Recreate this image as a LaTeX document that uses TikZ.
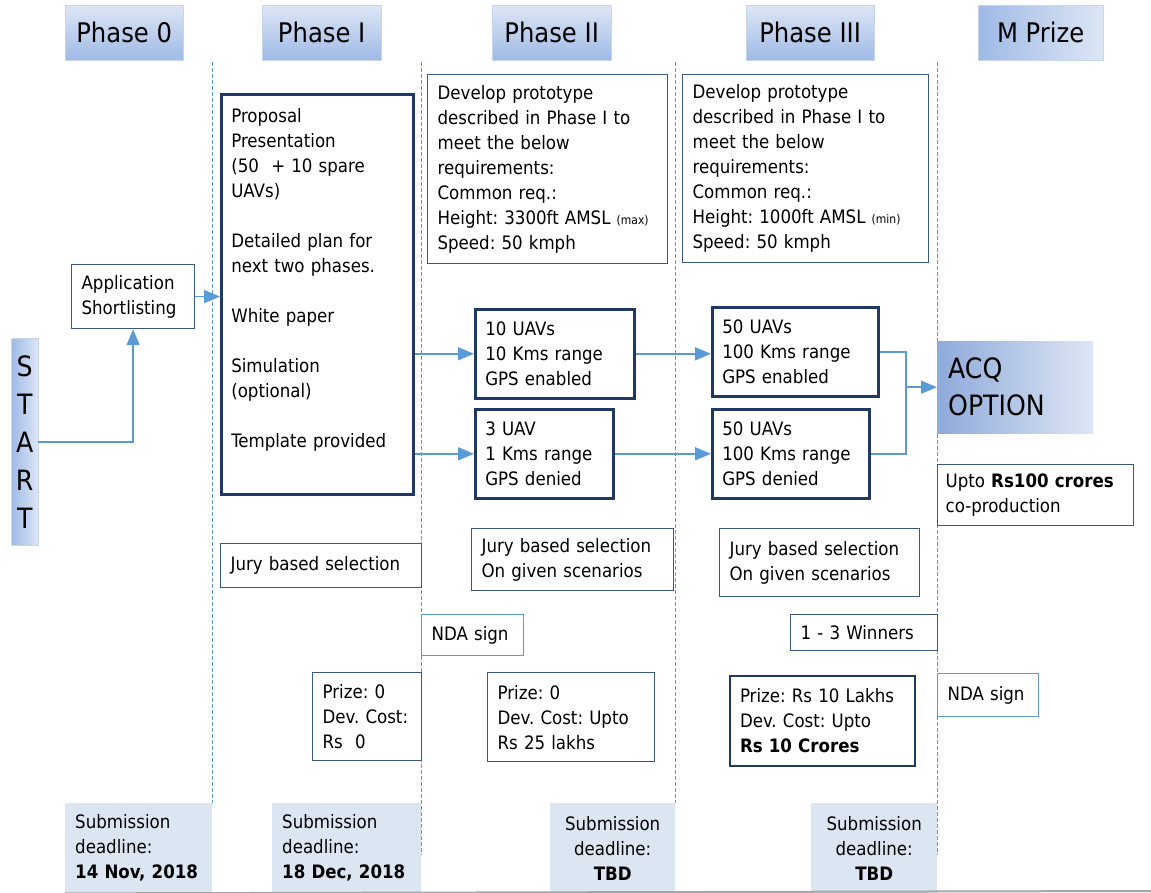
\documentclass[tikz,border=0pt]{standalone}
\usepackage{fontspec}
\setmainfont{DejaVu Sans Condensed}
\usepackage{xcolor}
\usetikzlibrary{arrows.meta}

\definecolor{navy}{HTML}{1F3864}
\definecolor{boxline}{HTML}{3A5683}
\definecolor{arrowblue}{HTML}{5B9BD5}
\definecolor{deadfill}{HTML}{DCE6F2}
\definecolor{headtop}{HTML}{DDE6F5}
\definecolor{headbot}{HTML}{9FBAE6}
\definecolor{headline}{HTML}{C5D5EE}
\definecolor{acqleft}{HTML}{8EAADB}
\definecolor{acqright}{HTML}{DEE6F4}

\newcommand{\limtext}[1]{{\fontsize{12}{12}\selectfont #1}}

\tikzset{
  bodyfont/.style={font=\fontsize{18.5}{25}\selectfont},
  phasehead/.style={draw=headline,top color=headtop,bottom color=headbot,anchor=north west,minimum height=55pt,font=\fontsize{27}{30}\selectfont},
  box/.style={draw=boxline,line width=1.2pt,anchor=north west,align=left,inner xsep=10pt,inner ysep=0pt,bodyfont},
  thickbox/.style={box,draw=navy,line width=2.6pt},
  ndabox/.style={box,draw=arrowblue},
  deadline/.style={fill=deadfill,anchor=north west,inner xsep=10pt,inner ysep=0pt,minimum height=90pt,bodyfont},
  arr/.style={draw=arrowblue,line width=1.6pt,-{Triangle[length=16pt,width=13pt]}},
  joinline/.style={draw=arrowblue,line width=1.6pt},
  phaseline/.style={draw=arrowblue,line width=1pt,dash pattern=on 4pt off 2pt}
}

\frenchspacing

\begin{document}
\begin{tikzpicture}[x=1pt,y=-1pt]
\useasboundingbox (0,0) rectangle (1151,893);

% phase separators
\draw[phaseline] (212,62) -- (212,803);
\draw[phaseline] (421,62) -- (421,855);
\draw[phaseline] (675,62) -- (675,803);
\draw[phaseline] (937,62) -- (937,855);

% headers
\node[phasehead,minimum width=118pt] (ph0) at (65,5) {Phase 0};
\node[phasehead,minimum width=119pt] (ph1) at (262,5) {Phase I};
\node[phasehead,minimum width=119pt] (ph2) at (492,5) {Phase II};
\node[phasehead,minimum width=128pt] (ph3) at (746,5) {Phase III};
\node[phasehead,minimum width=125pt,left color=headbot,right color=headtop] (mprize) at (978,5) {M Prize};

% Phase 0
\node[draw=headline,left color=headbot,right color=headtop,anchor=north west,minimum width=27pt,minimum height=207pt,inner sep=0pt,align=center,font=\fontsize{28}{38}\selectfont] (start) at (11,338) {S\\T\\A\\R\\T};
\node[box,text width=103pt,minimum height=64pt] (appl) at (71,264) {Application\\Shortlisting};

\draw[arr] (start.east) -| (appl.south);

% Phase I
\node[thickbox,text width=172pt,minimum height=400pt] (proposal) at (220,93) {Proposal\\Presentation\\(50\ \ + 10 spare\\UAVs)\\[25pt]Detailed plan for\\next two phases.\\[25pt]White paper\\[25pt]Simulation\\(optional)\\[25pt]Template provided\\[8pt]\mbox{}};
\node[box,text width=181pt,minimum height=44pt] (jury1) at (220,543) {Jury~based~selection};
\node[box,text width=89pt,minimum height=88pt] (prize1) at (312,672) {Prize:~0\\Dev.~Cost:\\Rs\ \ 0};

\draw[arr] (appl.east) -- (appl.east -| proposal.west);

% Phase II
\node[box,text width=220pt,minimum height=189pt] (req2) at (427,74) {Develop prototype\\described in Phase I to\\meet the below\\requirements:\\Common req.:\\Height:~3300ft~AMSL~\limtext{(max)}\\Speed: 50 kmph};
\node[thickbox,text width=139pt,minimum height=89pt] (uav2a) at (474,308) {10~UAVs\\10~Kms~range\\GPS~enabled};
\node[thickbox,text width=118pt,minimum height=89pt] (uav2b) at (474,408) {3~UAV\\1~Kms~range\\GPS~denied};
\node[box,text width=182pt,minimum height=62pt] (jury2) at (471,528) {Jury~based~selection\\On~given~scenarios};
\node[ndabox,text width=82pt,minimum height=41pt] (nda2) at (421,614) {NDA~sign};
\node[box,text width=147pt,minimum height=89pt] (prize2) at (487,672) {Prize:~0\\Dev.~Cost:~Upto\\Rs~25~lakhs};

\draw[arr] (uav2a.west -| proposal.east) -- (uav2a.west);
\draw[arr] (uav2b.west -| proposal.east) -- (uav2b.west);

% Phase III
\node[box,text width=226pt,minimum height=188pt] (req3) at (682,74) {Develop prototype\\described in Phase I to\\meet the below\\requirements:\\Common req.:\\Height:~1000ft~AMSL~\limtext{(min)}\\Speed: 50 kmph};
\node[thickbox,text width=146pt,minimum height=89pt] (uav3a) at (711,306) {50~UAVs\\100~Kms~range\\GPS~enabled};
\node[thickbox,text width=137pt,minimum height=89pt] (uav3b) at (711,408) {50~UAVs\\100~Kms~range\\GPS~denied};
\node[box,text width=180pt,minimum height=68pt] (jury3) at (719,528) {Jury~based~selection\\On~given~scenarios};
\node[box,text width=127pt,minimum height=36pt] (winners) at (790,614) {1~-~3~Winners};
\node[box,draw=navy,line width=2pt,text width=165pt,minimum height=90pt] (prize3) at (729,675) {Prize:~Rs~10~Lakhs\\Dev.~Cost:~Upto\\\textbf{Rs~10~Crores}};

\draw[arr] (uav2a.east) -- (uav2a.east -| uav3a.west);
\draw[arr] (uav2b.east) -- (uav2b.east -| uav3b.west);

% M Prize
\node[left color=acqleft,right color=acqright,anchor=north west,text width=134pt,minimum height=92pt,inner xsep=11pt,align=left,font=\fontsize{28}{37}\selectfont] (acq) at (937,341) {ACQ\\OPTION};
\node[box,inner xsep=8pt,text width=180pt,minimum height=61pt] (copro) at (937,464) {Upto~\textbf{Rs100~crores}\\co-production};
\node[ndabox,text width=81pt,minimum height=43pt] (nda3) at (937,673) {NDA~sign};

\path (acq.west) ++(-31,0) coordinate (merge);
\draw[joinline] (uav3a.east) -| (merge);
\draw[joinline] (uav3b.east) -| (merge);
\draw[arr] (merge) -- (acq.west);

% deadlines
\node[deadline,text width=127pt,align=left] (dl0) at (65,803) {Submission\\deadline:\\\textbf{14~Nov,~2018}};
\node[deadline,text width=129pt,align=left] (dl1) at (272,803) {Submission\\deadline:\\\textbf{18~Dec,~2018}};
\node[deadline,minimum width=125pt,align=center] (dl2) at (550,803) {Submission\\deadline:\\\textbf{TBD}};
\node[deadline,minimum width=126pt,align=center] (dl3) at (811,803) {Submission\\deadline:\\\textbf{TBD}};

\draw[gray!70,line width=2pt] (dl0.south west) -- (1151,891);

\end{tikzpicture}
\end{document}
